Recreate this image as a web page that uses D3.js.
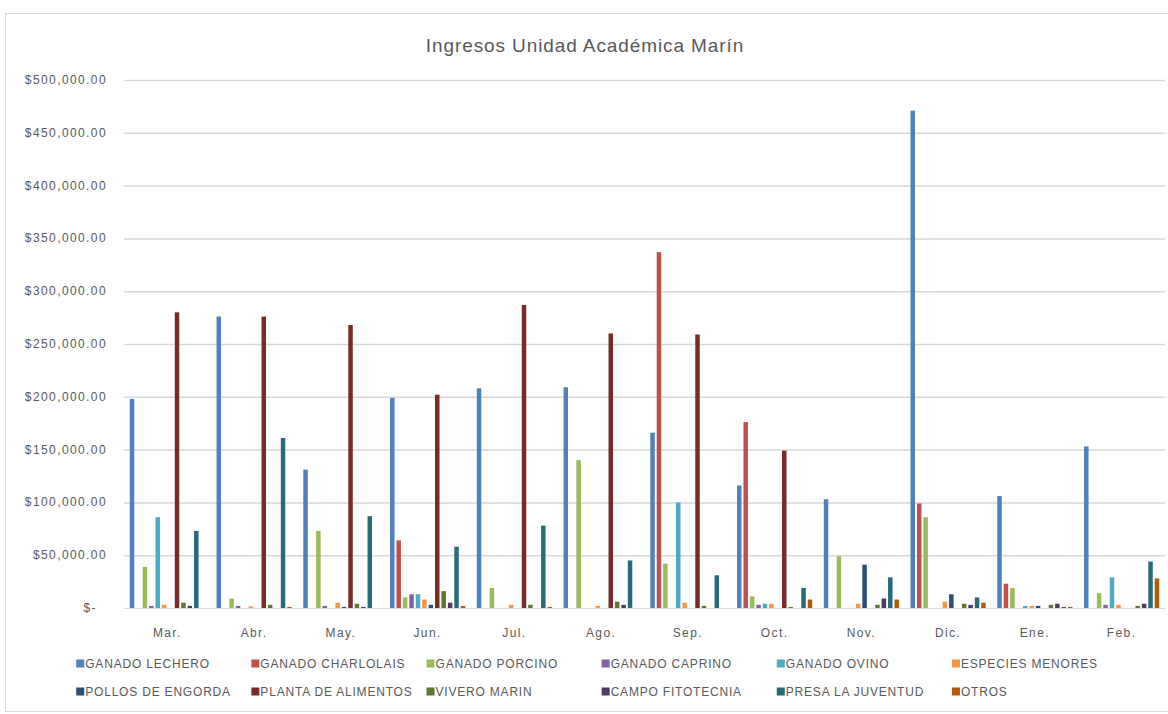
<!DOCTYPE html>
<html>
<head>
<meta charset="utf-8">
<script src="https://cdn.jsdelivr.net/npm/d3@7"></script>
<style>
  body { margin: 0; background: #fff; }
  text { font-family: "Liberation Sans", Arial, sans-serif; fill: #595959; }
</style>
</head>
<body>
<div id="chart"></div>
<script>
// months on the x axis
var months = ["Mar.", "Abr.", "May.", "Jun.", "Jul.", "Ago.", "Sep.", "Oct.", "Nov.", "Dic.", "Ene.", "Feb."];

// one array per income source
var ganadoLechero    = [198000, 276000, 131000, 199000, 208000, 209000, 166000, 116000, 103000, 471000, 106000, 153000];
var ganadoCharlolais = [0, 0, 0, 64000, 0, 0, 337000, 176000, 0, 99000, 23000, 0];
var ganadoPorcino    = [39000, 9000, 73000, 10000, 19000, 140000, 42000, 11000, 49000, 86000, 19000, 14000];
var ganadoCaprino    = [2000, 2000, 2000, 13000, 0, 0, 0, 3000, 0, 0, 0, 3000];
var ganadoOvino      = [86000, 0, 0, 13000, 0, 0, 100000, 4000, 0, 0, 2000, 29000];
var especiesMenores  = [3000, 1500, 5000, 8000, 3000, 2000, 5000, 4000, 4000, 6000, 2000, 3000];
var pollosEngorda    = [0, 0, 1000, 3000, 0, 0, 0, 0, 41000, 13000, 2000, 0];
var plantaAlimentos  = [280000, 276000, 268000, 202000, 287000, 260000, 259000, 149000, 0, 0, 0, 0];
var viveroMarin      = [5000, 3000, 4000, 16000, 3000, 6000, 2000, 1000, 3000, 4000, 3000, 2000];
var campoFitotecnia  = [2000, 0, 1000, 5000, 0, 3000, 0, 0, 9000, 3000, 4000, 4000];
var presaJuventud    = [73000, 161000, 87000, 58000, 78000, 45000, 31000, 19000, 29000, 10000, 1000, 44000];
var otros            = [0, 1000, 0, 2000, 1000, 0, 0, 8000, 8000, 5000, 1000, 28000];

var seriesNames = ["GANADO LECHERO", "GANADO CHARLOLAIS", "GANADO PORCINO", "GANADO CAPRINO",
    "GANADO OVINO", "ESPECIES MENORES", "POLLOS DE ENGORDA", "PLANTA DE ALIMENTOS",
    "VIVERO MARIN", "CAMPO FITOTECNIA", "PRESA LA JUVENTUD", "OTROS"];
var seriesValues = [ganadoLechero, ganadoCharlolais, ganadoPorcino, ganadoCaprino,
    ganadoOvino, especiesMenores, pollosEngorda, plantaAlimentos,
    viveroMarin, campoFitotecnia, presaJuventud, otros];

var yTicks = [0, 50000, 100000, 150000, 200000, 250000, 300000, 350000, 400000, 450000, 500000];

// excel 2007 palette, 12 series
var colors = ["#4F81BD", "#C0504D", "#9BBB59", "#8064A2", "#4BACC6", "#F79646",
    "#2C4D75", "#772C2A", "#5F7530", "#4D3B62", "#276A7C", "#B65708"];

var width = 1168, height = 714;
var margin = { left: 124, right: 1165, top: 80, bottom: 608 };

var svg = d3.select("#chart").append("svg")
    .attr("width", width)
    .attr("height", height);

// chart frame
svg.append("rect")
    .attr("x", 5.5).attr("y", 13.5)
    .attr("width", 1180).attr("height", 698)
    .attr("fill", "#fff")
    .attr("stroke", "#d9d9d9");

var x0 = d3.scaleBand()
    .domain(months)
    .range([margin.left, margin.right])
    .padding(0);

var x1 = d3.scaleBand()
    .domain(seriesNames)
    .range([0, x0.bandwidth()])
    .paddingInner(0.3)
    .paddingOuter(0.9);

var y = d3.scaleLinear()
    .domain([0, 500000])
    .range([margin.bottom, margin.top]);

var color = d3.scaleOrdinal().domain(seriesNames).range(colors);

// gridlines
svg.append("g")
    .selectAll("line")
    .data(yTicks.slice(1))
    .enter().append("line")
    .attr("x1", margin.left).attr("x2", margin.right)
    .attr("y1", d => y(d) + 0.5).attr("y2", d => y(d) + 0.5)
    .attr("stroke", "#d9d9d9")
    .attr("stroke-width", 1.5);

// y labels
var fmt = d3.format("$,.2f");
svg.append("g")
    .selectAll("text")
    .data(yTicks)
    .enter().append("text")
    .attr("x", d => d === 0 ? 97 : 107)
    .attr("y", d => y(d) + 4)
    .attr("text-anchor", "end")
    .style("font-size", "12px")
    .style("letter-spacing", "1.4px")
    .text(d => d === 0 ? "$-" : fmt(d));

// bars
var rows = months.map((m, i) => ({ month: m, values: seriesNames.map((s, j) => ({ key: s, value: seriesValues[j][i] })) }));

svg.append("g")
    .selectAll("g")
    .data(rows)
    .enter().append("g")
    .attr("transform", d => "translate(" + x0(d.month) + ",0)")
    .selectAll("rect")
    .data(d => d.values)
    .enter().append("rect")
    .attr("x", d => x1(d.key))
    .attr("width", x1.bandwidth())
    .attr("y", d => y(d.value))
    .attr("height", d => y(0) - y(d.value))
    .attr("fill", d => color(d.key));

// x axis line
svg.append("line")
    .attr("x1", margin.left).attr("x2", margin.right)
    .attr("y1", y(0) + 0.5).attr("y2", y(0) + 0.5)
    .attr("stroke", "#d9d9d9");

// month labels
svg.append("g")
    .selectAll("text")
    .data(months)
    .enter().append("text")
    .attr("x", d => x0(d) + x0.bandwidth() / 2)
    .attr("y", 637)
    .attr("text-anchor", "middle")
    .style("font-size", "12px")
    .style("letter-spacing", "1.4px")
    .text(d => d);

// title
svg.append("text")
    .attr("x", 585)
    .attr("y", 52)
    .attr("text-anchor", "middle")
    .style("font-size", "19px")
    .style("letter-spacing", "0.9px")
    .text("Ingresos Unidad Académica Marín");

// legend: 2 rows x 6 columns of equal width
var legend = svg.append("g").attr("class", "legend");
var perRow = 6;
var items = legend.selectAll("g")
    .data(seriesNames)
    .enter().append("g");

items.append("rect")
    .attr("width", 8).attr("height", 8)
    .attr("y", -8.5)
    .attr("fill", d => color(d));

items.append("text")
    .attr("x", 9)
    .attr("y", 0)
    .style("font-size", "12px")
    .style("letter-spacing", "0.8px")
    .text(d => d);

var maxW = 0;
items.select("text").each(function () { maxW = Math.max(maxW, this.getComputedTextLength()); });
var colStep = maxW + 9 + 14;
var lastW = 0;
items.filter((d, i) => i % perRow === perRow - 1).select("text").each(function () { lastW = Math.max(lastW, this.getComputedTextLength()); });
var legendWidth = colStep * (perRow - 1) + 9 + lastW;
var legendLeft = 587 - legendWidth / 2;

items.attr("transform", (d, i) => "translate(" + (legendLeft + (i % perRow) * colStep) + "," + (668 + Math.floor(i / perRow) * 28) + ")");
</script>
</body>
</html>
